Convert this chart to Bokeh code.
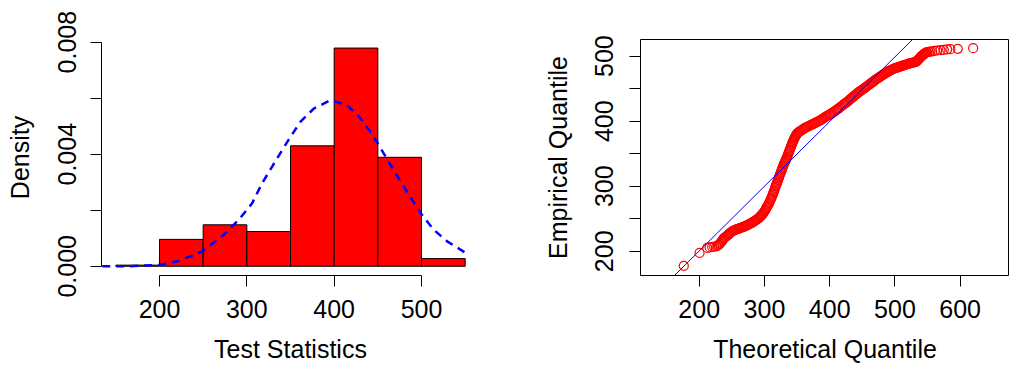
import math
from bokeh.plotting import figure
from bokeh.layouts import row
from bokeh.models import Range1d, FixedTicker, Slope
from bokeh.embed import file_html
from bokeh.resources import INLINE

# ---------------- data: histogram ----------------
hist_breaks = [150, 200, 250, 300, 350, 400, 450, 500, 550]
hist_density = [0.00004, 0.00096, 0.00148, 0.00124, 0.0043, 0.00779, 0.00389, 0.000274]

# fitted normal density curve
curve_x = [134.4, 164.8, 199.2, 222.1, 248.9, 271.8, 290.8, 306.1, 317.6, 329.0, 340.5,
           350.0, 361.5, 376.7, 395.8, 414.9, 430.2, 445.4, 464.5, 479.7, 499.0, 514.1,
           529.4, 550.4]
curve_y = [0.0, 0.0, 0.00005, 0.00019, 0.00053, 0.00107, 0.00166, 0.00225, 0.00297, 0.00356,
           0.00415, 0.00462, 0.00516, 0.00563, 0.00593, 0.00575, 0.00528, 0.00462, 0.00362,
           0.00284, 0.0019, 0.0013, 0.00089, 0.00048]

hist_xticks = [200, 300, 400, 500]
hist_yticks = [0.0, 0.002, 0.004, 0.006, 0.008]
hist_ytick_labels = ["0.000", "", "0.004", "", "0.008"]

# ---------------- data: QQ plot (theoretical, empirical) ----------------
qq_theoretical = [
    176.4, 200.5, 212.3, 216, 219.9, 223, 226.5, 228.5, 230, 231.5, 232.6, 234, 235, 236,
    236.8, 238, 239, 241, 242.9, 244, 245, 246, 247, 249, 250.6,
    252, 253.5, 255, 256.5, 258, 259.5, 261, 262.3, 263.3, 264.8, 266.3, 267.8, 269.3, 270.8,
    272.3, 273.8, 275.3, 276.8, 278.6, 280, 281.5, 283, 284.5, 286, 287.5, 289, 290.3, 291.3,
    292.5, 293.5, 294.5, 295.5, 296.5, 297.5, 298.5, 299.5, 300.5, 301.6,
    302.4, 303, 304, 305, 306, 307, 308, 309.3, 310.2, 311, 311.8, 312.5, 313.3, 314, 314.8,
    315.5, 316.2, 316.9, 317.7, 318.5, 319.3, 320, 320.8, 321.5, 322.3, 323, 323.8, 324.6,
    325.3, 326, 326.8, 327.5, 328.3, 329, 329.8, 330.5, 331.3, 332, 332.8, 333.5, 334.2, 334.9,
    335.7, 336.5, 337.3, 338, 338.8, 339.5, 340.3, 341, 341.8, 342.5, 343.3, 344, 344.8, 345.5,
    346.3, 347, 347.8, 348.5, 349.3, 350.2,
    351.5, 353, 354.5, 356, 357.5, 359, 360.5, 362, 363.7, 365.5, 367.2, 369, 370.5, 372, 373.5,
    375, 376.5, 378, 380, 382, 384, 385.9, 387.5, 389, 390.5, 392, 393.5, 395, 397, 399, 400.5,
    402, 404, 406.3, 408, 410, 411.5, 413, 414.5, 416, 418, 420, 421.5, 423, 425, 426.8, 428.4,
    430, 431.5, 433, 434.5, 436, 437.5, 439, 440.5, 442.1, 443.5, 445, 446.5, 448, 450, 452.3,
    453.6, 455, 456.5, 458, 459.5, 461, 462.5, 464, 465.5, 467, 468.5, 470, 471.4, 472.8, 474.4,
    476, 477.5, 479, 480.5, 482, 483.5, 485, 486.5, 488, 489, 490, 491.6, 493.2, 494.6, 496,
    497.5, 499, 500.5, 502, 503.5, 505, 506.5, 508, 509.5, 511, 512.3, 513.6, 515.3, 517, 518.5,
    520, 521.5, 523, 524.5, 526, 527.5, 529, 530.3, 531.5,
    532.3, 533, 534, 535, 536, 537, 538, 539.2, 540, 541, 542, 543, 544, 545, 546, 547, 548.2,
    549.4, 552, 554.5, 557.1, 561, 564.8, 569.8, 574.9, 580, 585.1, 596.3, 619.9]
qq_empirical = [
    177.6, 197.5, 205.2, 206, 206.7, 207, 207.7, 209, 210, 211.5, 212.8, 214.5, 216, 217.5,
    219, 220, 221, 222.5, 224, 225, 226, 227, 228, 229.5, 230.6,
    231.3, 232, 232.8, 233.3, 234, 234.6, 235, 235.5, 235.8, 236.4, 237, 237.5, 238, 238.8,
    239.5, 240.2, 241, 241.7, 242.4, 243.4, 244.4, 245.4, 246.4, 247.3, 248.3, 249.4, 250.3, 251.1,
    252.4, 253.5, 254.5, 255.5, 256.5, 257.8, 259.3, 260.8, 262.3, 263.8,
    265.8, 267, 268.5, 270, 272, 274, 276.5, 279.1, 281, 283, 285, 287, 289, 291, 293,
    295, 297.3, 299.5, 301.5, 303.5, 305.5, 307.5, 309.5, 311.5, 313.8, 316, 318, 320,
    322, 324, 326, 328, 330, 332, 334, 336, 337.5, 339, 340.5, 342, 343.7, 345.4,
    347.7, 350, 352, 354, 356, 358, 360, 362, 364, 365.9, 367.7, 369.5, 371.3, 373,
    374.5, 376, 377.3, 378.5, 380, 381.2,
    382.3, 383.5, 384.5, 385.5, 386.5, 387.5, 388.5, 389.5, 390.4, 391.3, 392.2, 393, 393.8, 394.5, 395.3,
    396, 396.8, 397.5, 398.5, 399.5, 400.5, 401.6, 402.5, 403.5, 404.5, 405.5, 406.5, 407.5, 408.5, 409.5, 410.5,
    411.5, 412.8, 414.3, 415.6, 417, 418, 419, 420.2, 421.5, 423, 424.5, 425.8, 427, 428.3, 429.6, 431,
    432.5, 433.8, 435, 436.3, 437.5, 438.8, 440, 441.3, 442.5, 443.8, 445, 446, 447, 448.5, 450,
    451, 452, 453.3, 454.5, 455.5, 456.5, 457.8, 459, 460, 461, 462.3, 463.5, 464.5, 465.4, 466.5,
    467.5, 468.5, 469.5, 470.5, 471.5, 472.5, 473.5, 474.3, 475, 475.8, 476.5, 477.3, 478.1, 478.8, 479.5,
    480.3, 481, 481.5, 482, 482.5, 483, 483.5, 484, 484.5, 485, 485.4, 485.8, 486.4, 487, 487.5,
    488, 488.5, 489, 489.3, 489.5, 489.9, 490.3, 490.6, 490.8,
    491.4, 492, 493, 494, 495, 496, 497.2, 498.5, 499.5, 500.5, 501.3, 502, 502.8, 503.5, 504.3, 505, 505.6,
    506.1, 506.5, 507, 507.2, 508, 508.7, 509.2, 509.8, 510.3, 510.8, 511.3, 512.3]
qq_line_slope = 0.9945
qq_line_intercept = 1.6
qq_xticks = [200, 300, 400, 500, 600]
qq_yticks = [200, 250, 300, 350, 400, 450, 500]
qq_ytick_labels = ["200", "", "300", "", "400", "", "500"]

FONT = "Liberation Sans"
FS = "25px"


def style_axes(p):
    for ax in (p.xaxis[0], p.yaxis[0]):
        ax.major_label_text_font = FONT
        ax.major_label_text_font_size = FS
        ax.major_label_text_color = "black"
        ax.axis_label_text_font = FONT
        ax.axis_label_text_font_size = FS
        ax.axis_label_text_font_style = "normal"
        ax.axis_label_text_color = "black"
        ax.major_tick_in = 0
        ax.major_tick_out = 11
        ax.major_tick_line_color = "black"
        ax.minor_tick_line_color = None
        ax.axis_line_color = "black"
    p.xgrid.visible = False
    p.ygrid.visible = False


# ---------------- left: histogram ----------------
p1 = figure(width=504, height=365, output_backend="svg", toolbar_location=None,
            x_range=Range1d(133.6, 566.4), y_range=Range1d(-0.00033, 0.008096),
            min_border_left=101, min_border_right=25, min_border_top=39, min_border_bottom=89)
p1.outline_line_color = None
p1.quad(left=hist_breaks[:-1], right=hist_breaks[1:], bottom=0, top=hist_density,
        fill_color="red", line_color="black", line_width=1)
p1.line(curve_x, curve_y, line_color="blue", line_width=2.5, line_dash="8 6")
style_axes(p1)
p1.xaxis.ticker = FixedTicker(ticks=hist_xticks)
p1.xaxis.bounds = (hist_xticks[0], hist_xticks[-1])
p1.yaxis.ticker = FixedTicker(ticks=hist_yticks)
p1.yaxis.bounds = (hist_yticks[0], hist_yticks[-1])
p1.yaxis.major_label_overrides = {t: l for t, l in zip(hist_yticks, hist_ytick_labels)}
p1.yaxis.major_label_orientation = "parallel"
p1.xaxis.axis_label = "Test Statistics"
p1.yaxis.axis_label = "Density"
p1.xaxis.major_label_standoff = 13
p1.yaxis.major_label_standoff = 14
p1.xaxis.axis_label_standoff = 14
p1.yaxis.axis_label_standoff = 22

# ---------------- right: QQ plot ----------------
p2 = figure(width=505, height=365, output_backend="svg", toolbar_location=None,
            x_range=Range1d(110.0, 675.6), y_range=Range1d(162.8, 525.6),
            min_border_left=136, min_border_right=0, min_border_top=39, min_border_bottom=89)
p2.outline_line_color = "black"
p2.outline_line_width = 1
p2.scatter(qq_theoretical, qq_empirical, marker="circle", size=9, fill_color=None,
           line_color="red", line_width=1.2)
p2.add_layout(Slope(gradient=qq_line_slope, y_intercept=qq_line_intercept,
                    line_color="blue", line_width=1))
style_axes(p2)
p2.xaxis.axis_line_color = None
p2.yaxis.axis_line_color = None
p2.xaxis.ticker = FixedTicker(ticks=qq_xticks)
p2.yaxis.ticker = FixedTicker(ticks=qq_yticks)
p2.yaxis.major_label_overrides = {t: l for t, l in zip(qq_yticks, qq_ytick_labels)}
p2.yaxis.major_label_orientation = "parallel"
p2.xaxis.axis_label = "Theoretical Quantile"
p2.yaxis.axis_label = "Empirical Quantile"
p2.xaxis.major_label_standoff = 13
p2.yaxis.major_label_standoff = 16
p2.xaxis.axis_label_standoff = 14
p2.yaxis.axis_label_standoff = 21

layout = row(p1, p2)
open("out.html", "w").write(file_html(layout, INLINE))
